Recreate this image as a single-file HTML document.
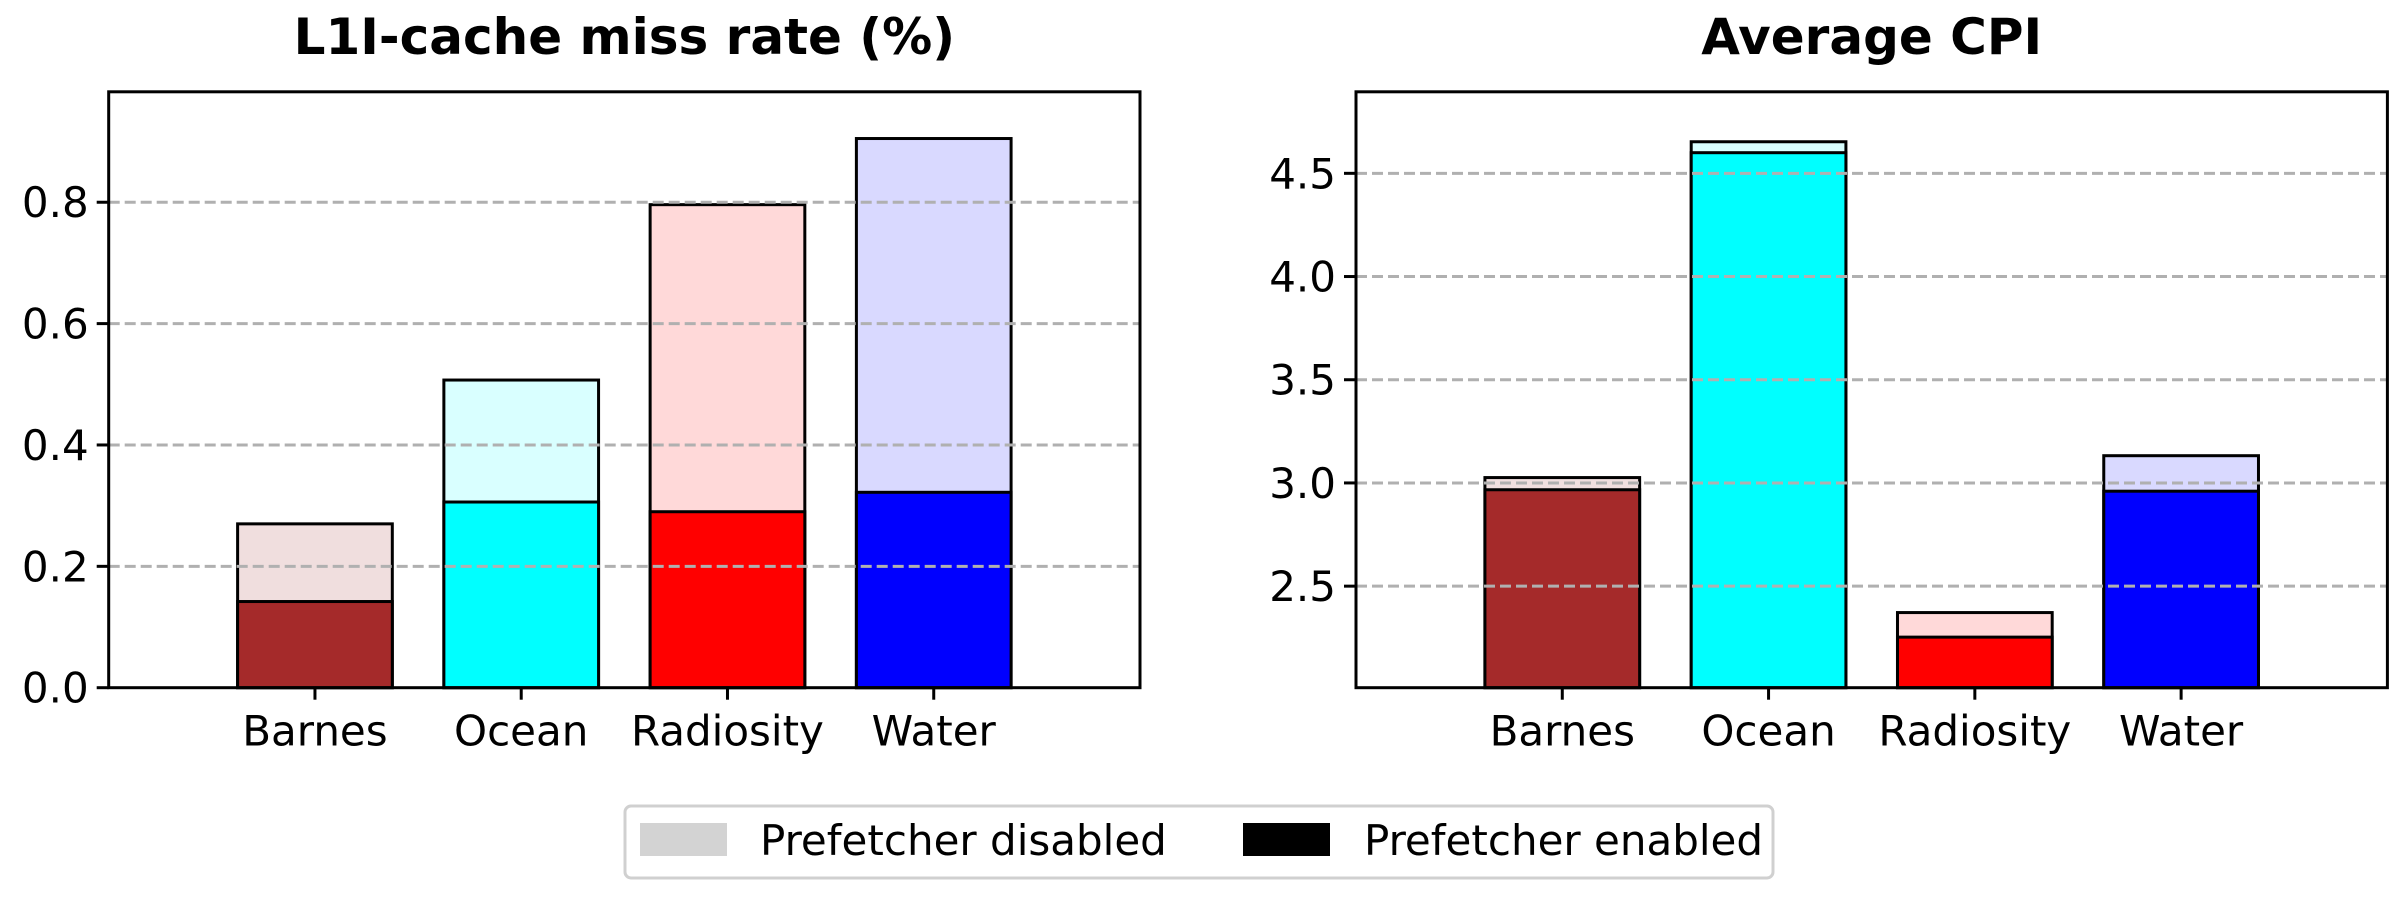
<!DOCTYPE html>
<html><head><meta charset="utf-8"><style>
html,body{margin:0;padding:0;background:#fff;}
svg{display:block;font-family:"DejaVu Sans","Liberation Sans",sans-serif;}
</style></head><body>
<svg id="chart" width="2400" height="900" viewBox="0 0 2400 900" xmlns="http://www.w3.org/2000/svg"></svg>
<script>
const categories = ["Barnes","Ocean","Radiosity","Water"];
const missDisabled = [0.270, 0.507, 0.796, 0.905];
const missEnabled = [0.142, 0.306, 0.290, 0.322];
const cpiDisabled = [3.026, 4.653, 2.372, 3.132];
const cpiEnabled = [2.967, 4.600, 2.253, 2.960];
const missTicks = [0.0, 0.2, 0.4, 0.6, 0.8];
const missTickLabels = ["0.0","0.2","0.4","0.6","0.8"];
const cpiTicks = [2.5, 3.0, 3.5, 4.0, 4.5];
const cpiTickLabels = ["2.5","3.0","3.5","4.0","4.5"];
const barColors = ["#a52a2a","#00ffff","#ff0000","#0000ff"];
const lightColors = ["#f0dede","#d9ffff","#ffd9d9","#d9d9ff"];

const svg = document.getElementById('chart');
const NS = 'http://www.w3.org/2000/svg';
function mk(tag, attrs, parent){const e=document.createElementNS(NS,tag);for(const k in attrs)e.setAttribute(k,attrs[k]);(parent||svg).appendChild(e);return e;}

function panel(key, x0, x1, y0, y1, ymin, ymax, dis, en, ticks, tickLabels, title){
  const g = mk('g',{});
  
  
  const xs = i => x0 + (i+1)/5*(x1-x0);
  const ys = v => y1 - (v-ymin)/(ymax-ymin)*(y1-y0);
  const bw = 0.75*(x1-x0)/5;
  const t = mk('text',{x:(x0+x1)/2,y:54,'text-anchor':'middle','font-size':'50','font-weight':'bold',fill:'#000'},g);
  t.textContent = title;
  
  
  categories.forEach((c,i)=>{
    const cx = xs(i);
    const yb = y1;
    const r1 = mk('rect',{x:cx-bw/2,y:ys(dis[i]),width:bw,height:yb-ys(dis[i]),fill:lightColors[i],stroke:'#000','stroke-width':3},g);
    
    
    const r2 = mk('rect',{x:cx-bw/2,y:ys(en[i]),width:bw,height:yb-ys(en[i]),fill:barColors[i],stroke:'#000','stroke-width':3},g);
    
    
    const tk = mk('line',{x1:cx,x2:cx,y1:y1,y2:y1+12,stroke:'#000','stroke-width':3},g);
    
    
    const lb = mk('text',{x:cx,y:y1+58,'text-anchor':'middle','font-size':'42',fill:'#000'},g);
    lb.textContent = c;
    
    
  });
  ticks.forEach((v,i)=>{
    const y = ys(v);
    if (v > ymin + 1e-9) {
      const gl = mk('line',{x1:x0,x2:x1,y1:y,y2:y,stroke:'#b0b0b0','stroke-width':3,'stroke-dasharray':'11,5'},g);
      
      
    }
    const tk = mk('line',{x1:x0-12,x2:x0,y1:y,y2:y,stroke:'#000','stroke-width':3},g);
    
    
    const lb = mk('text',{x:x0-20,y:y+15,'text-anchor':'end','font-size':'42',fill:'#000'},g);
    lb.textContent = tickLabels[i];
    
    
  });
  const fr = mk('rect',{x:x0,y:y0,width:x1-x0,height:y1-y0,fill:'none',stroke:'#000','stroke-width':3},g);
  
  
}
panel('miss', 108.7, 1140, 91.8, 687.7, 0, 0.982, missDisabled, missEnabled, missTicks, missTickLabels, 'L1I-cache miss rate (%)');
panel('cpi', 1356, 2387.4, 91.8, 687.7, 2.008, 4.895, cpiDisabled, cpiEnabled, cpiTicks, cpiTickLabels, 'Average CPI');

const lg = mk('g',{});


mk('rect',{x:625,y:806,width:1148,height:72,rx:6,fill:'#fff',stroke:'#d0d0d0','stroke-width':3},lg);
const p1 = mk('rect',{x:640,y:823,width:87,height:33,fill:'#d3d3d3'},lg);


const t1 = mk('text',{x:760,y:855,'font-size':'42',fill:'#000'},lg);
t1.textContent = 'Prefetcher disabled';


const p2 = mk('rect',{x:1243,y:823,width:87,height:33,fill:'#000'},lg);


const t2 = mk('text',{x:1364,y:855,'font-size':'42',fill:'#000'},lg);
t2.textContent = 'Prefetcher enabled';


</script>
</body></html>
